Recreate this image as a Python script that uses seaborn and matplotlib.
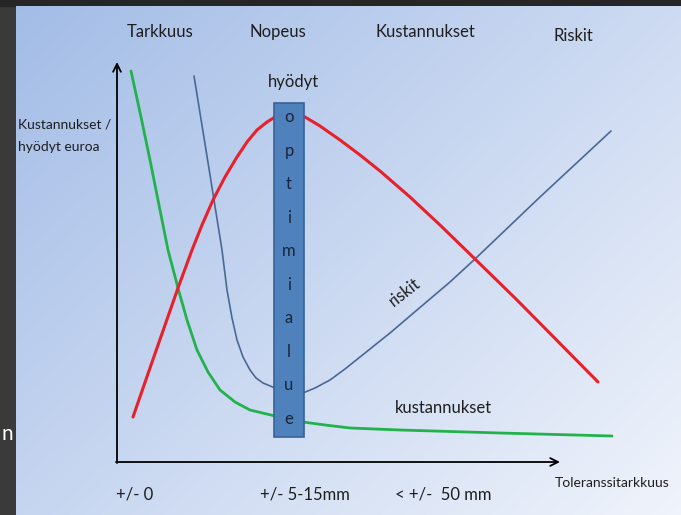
import numpy as np
import matplotlib
matplotlib.use("Agg")
import matplotlib.pyplot as plt
import seaborn as sns

# ============ Data (x = tolerance, y = euros) ============
green_x = [14, 24, 33, 42, 51, 61, 70, 80, 91, 103, 118, 133, 158, 186, 208, 233, 283, 383, 495]
green_y = [391, 345, 302, 257, 212, 174, 142, 112, 90, 72, 60, 52, 46, 40, 37, 34, 32, 29, 26]

red_x = [16, 33, 47, 61, 75, 85, 96, 108, 120, 130, 140, 150, 158, 172, 188, 203, 223, 243,
         263, 293, 323, 358, 400, 481]
red_y = [45, 94, 134, 174, 212, 237, 262, 285, 305, 320, 332, 340, 345, 348, 345, 336, 322, 307,
         291, 265, 237, 203, 162, 80]

blue_x = [77, 83, 89, 97, 105, 110, 115, 120, 126, 133, 139, 146, 158, 172, 186, 198, 213, 228,
          243, 273, 300, 333, 358, 423, 494]
blue_y = [386, 349, 312, 262, 212, 172, 144, 122, 105, 92, 84, 79, 74, 71, 69, 74, 82, 93,
          105, 129, 152, 180, 203, 265, 331]

opt_left, opt_right = 157, 187
opt_low, opt_high = 25, 359
opt_letters = list("optimialue")

top_labels = ["Tarkkuus", "Nopeus", "Kustannukset", "Riskit"]
top_label_x = [43, 161, 308, 456]
bottom_labels = ["+/- 0", "+/- 5-15mm", "< +/-  50 mm"]
bottom_label_x = [18, 188, 326]

# ============ Style ============
sns.set_theme(style="white")
plt.rcParams['font.family'] = ['Lato', 'DejaVu Sans']

W, H = 681, 515
fig = plt.figure(figsize=(W / 100, H / 100), dpi=100)
fig.patch.set_facecolor('#3a3a3a')
# dark top band
fig.add_artist(plt.Rectangle((0, 1 - 6 / H), 1, 6 / H, transform=fig.transFigure,
                             color='#262626', zorder=0))

slide = [16 / W, 0, (W - 16) / W, (H - 6) / H]

# ============ Slide gradient ============
ax_bg = fig.add_axes(slide)
gx, gy = np.meshgrid(np.linspace(0, 1, 200), np.linspace(0, 1, 200))
t = (gx * 0.55 + gy * 0.45)
c0 = np.array([0.64, 0.74, 0.905])
c1 = np.array([0.94, 0.955, 0.985])
img = c0[None, None, :] * (1 - t[..., None]) + c1[None, None, :] * t[..., None]
ax_bg.imshow(img, aspect='auto', extent=[0, 1, 0, 1], origin='upper')
ax_bg.set_axis_off()

# ============ Main chart ============
ax = fig.add_axes(slide)
ax.set_facecolor('none')
ax.set_xlim(-101, 564)
ax.set_ylim(-53, 456)
ax.set_axis_off()

sns.lineplot(x=green_x, y=green_y, ax=ax, color='#22b24c', linewidth=2.0, estimator=None, zorder=3)
sns.lineplot(x=blue_x, y=blue_y, ax=ax, color='#4a6896', linewidth=1.2, estimator=None, zorder=3)
sns.lineplot(x=red_x, y=red_y, ax=ax, color='#e8202a', linewidth=2.2, estimator=None, zorder=3)

# optimal range bar
ax.bar((opt_left + opt_right) / 2, opt_high - opt_low, bottom=opt_low,
       width=opt_right - opt_left, color='#4f81bd', edgecolor='#3a6296', linewidth=1.2, zorder=5)
for i, ch in enumerate(opt_letters):
    yy = opt_high - 14 - i * (opt_high - opt_low - 32) / (len(opt_letters) - 1)
    ax.text((opt_left + opt_right) / 2, yy, ch, ha='center', va='center',
            fontsize=12, color='#1b2438', zorder=6)

# axes arrows
arrow = dict(arrowstyle='->', color='black', lw=1.3, mutation_scale=14, shrinkA=0, shrinkB=0)
ax.annotate('', xy=(0, 400), xytext=(0, -1), arrowprops=arrow, zorder=4)
ax.annotate('', xy=(443, 0), xytext=(-1, 0), arrowprops=arrow, zorder=4)

# ============ Texts ============
for lab, xx in zip(top_labels, top_label_x):
    ax.text(xx, 430 if lab != "Riskit" else 426, lab, ha='center', va='center',
            fontsize=12, color='#1e1e1e')
ax.text(176, 380, "hyödyt", ha='center', va='center', fontsize=12, color='#1e1e1e')
ax.text(-99, 338, "Kustannukset /", ha='left', va='center', fontsize=10, color='#1e1e1e')
ax.text(-99, 315, "hyödyt euroa", ha='left', va='center', fontsize=10, color='#1e1e1e')
ax.text(288, 170, "riskit", ha='center', va='center', fontsize=12, rotation=38, color='#1e1e1e')
ax.text(326, 54, "kustannukset", ha='center', va='center', fontsize=12, color='#1e1e1e')
for lab, xx in zip(bottom_labels, bottom_label_x):
    ax.text(xx, -33, lab, ha='center', va='center', fontsize=12, color='#1e1e1e')
ax.text(495, -21, "Toleranssitarkkuus", ha='center', va='center', fontsize=10, color='#1e1e1e')

# letter on the dark margin
fig.text(0.002, 1 - 434 / H, "n", ha='left', va='center', fontsize=15, color='white')

fig.savefig("out.png", dpi=100, facecolor=fig.get_facecolor())
